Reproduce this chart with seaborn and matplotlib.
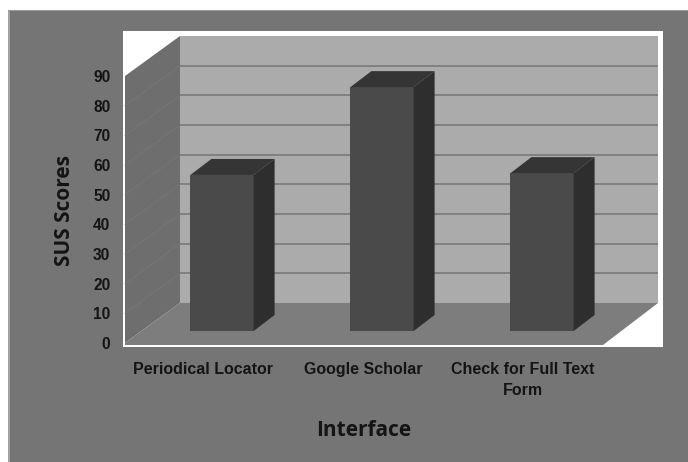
import matplotlib
matplotlib.use("Agg")
import matplotlib.pyplot as plt
import pandas as pd
import seaborn as sns
from matplotlib.patches import Polygon, Rectangle

sns.set_theme(style="white")

# values
interfaces = ["Periodical Locator", "Google Scholar", "Check for Full Text\nForm"]
sus_scores = [52.6, 82.2, 53.2]
y_ticks = [0, 10, 20, 30, 40, 50, 60, 70, 80, 90]

W, H = 688, 462
FONT = "Liberation Sans"
TITLE_FONT = "Open Sans"
INK = "#141414"

fig = plt.figure(figsize=(W / 100, H / 100), dpi=100, facecolor="white")


def px_axes(left, top, right, bottom, **kw):
    ax = fig.add_axes([left / W, 1 - bottom / H, (right - left) / W, (bottom - top) / H], **kw)
    ax.patch.set_alpha(0)
    return ax


# full figure layer in pixels for the fake 3D box
bg = px_axes(0, 0, W, H)
bg.set_xlim(0, W)
bg.set_ylim(H, 0)
bg.axis("off")
bg.add_patch(Rectangle((8, 10), W - 8, H - 10, color="#757575", lw=0))
bg.add_patch(Rectangle((8, 10), 1.5, H - 10, color="#a2a2a2", lw=0))
bg.add_patch(Rectangle((8, 10), W - 8, 1, color="#9a9a9a", lw=0))
bg.add_patch(Rectangle((123, 31), 540, 316, color="white", lw=0))
bg.add_patch(Polygon([(180, 36), (658, 36), (658, 303), (180, 303)], color="#ababab", lw=0))
bg.add_patch(Polygon([(125, 76), (180, 36), (180, 303), (125, 343)], color="#6e6e6e", lw=0))
bg.add_patch(Polygon([(125, 343), (180, 303), (658, 303), (603, 345), (125, 345)], color="#7d7d7d", lw=0))

# back wall gridlines
back = px_axes(180, 36, 658, 303)
back.set_ylim(0, 90)
back.set_xlim(0, 1)
back.axis("off")
for t in y_ticks[1:-1]:
    back.axhline(t, color="#808080", lw=1.4)

# faint lines on the side wall
for t in y_ticks[1:-1]:
    y = 343 - t * 267 / 90
    bg.plot([125, 180], [y, y - 40], color="#767676", lw=0.7)

# bars stand a bit behind the front edge
bar_ax = px_axes(142, 64, 622, 331)
df = pd.DataFrame({"Interface": interfaces, "SUS": sus_scores})
sns.barplot(data=df, x="Interface", y="SUS", width=0.395, color="#4a4a4a", saturation=1,
            edgecolor="none", linewidth=0, ax=bar_ax)
bar_ax.set_ylim(0, 90)
bar_ax.set_xlim(-0.5, 2.5)
bar_ax.axis("off")

# side and top faces follow each bar
dx, dy = 21, -16
to_px = bg.transData.inverted()
for bar in list(bar_ax.patches):
    (x0, y_base), (x1, y_top) = to_px.transform(bar.get_window_extent().get_points())
    bar_ax.add_patch(Polygon([(x1, y_top), (x1 + dx, y_top + dy), (x1 + dx, y_base + dy), (x1, y_base)],
                             color="#2e2e2e", lw=0, transform=bg.transData, clip_on=False))
    bar_ax.add_patch(Polygon([(x0, y_top), (x0 + dx, y_top + dy), (x1 + dx, y_top + dy), (x1, y_top)],
                             color="#353535", lw=0, transform=bg.transData, clip_on=False))

# front axes with the labels
ax = px_axes(125, 76, 605, 343)
ax.set_xlim(-0.487, 2.513)
ax.set_ylim(0, 90)
ax.set_yticks(y_ticks)
ax.set_xticks(range(len(interfaces)))
ax.set_xticklabels(interfaces, fontfamily=FONT, fontweight="bold", fontsize=11.5, color=INK, linespacing=1.45, va="top")
ax.set_yticklabels(y_ticks, fontfamily=FONT, fontweight="bold", fontsize=11.2, color=INK)
ax.tick_params(axis="x", length=0, pad=14)
ax.tick_params(axis="y", length=3, width=1, color="#9a9a9a", pad=9, direction="inout")
sns.despine(ax=ax, top=True, right=True, left=True, bottom=True)

fig.text(64 / W, 1 - 211 / H, "SUS Scores", rotation=90, ha="center", va="center",
         fontfamily=TITLE_FONT, fontweight="bold", fontsize=15, color=INK)
fig.text(364 / W, 1 - 430 / H, "Interface", ha="center", va="center",
         fontfamily=TITLE_FONT, fontweight="bold", fontsize=15, color=INK)

fig.savefig("out.png", dpi=100)
